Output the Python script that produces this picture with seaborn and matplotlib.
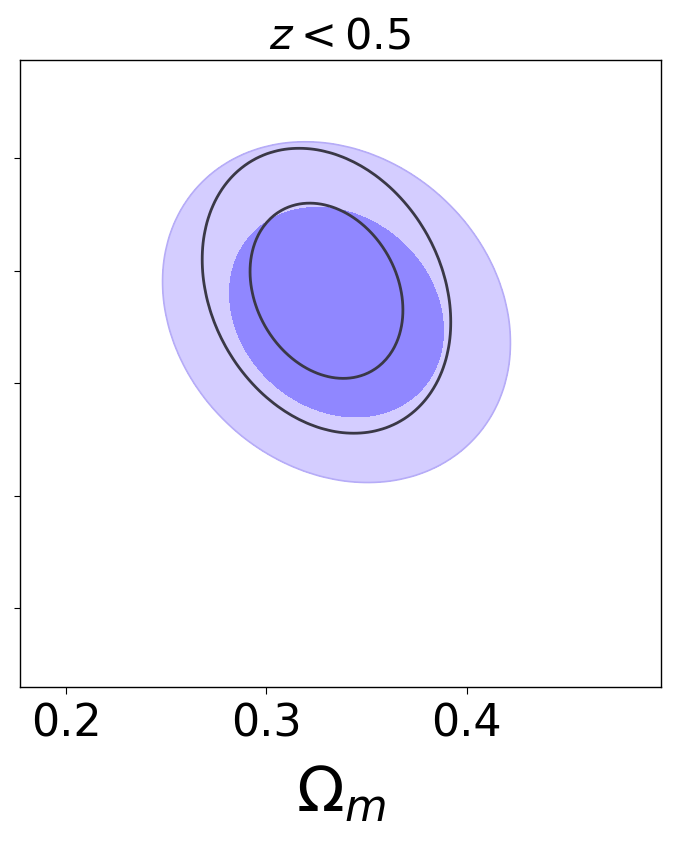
import numpy as np
import pandas as pd
import matplotlib
matplotlib.use("Agg")
import matplotlib.pyplot as plt
import seaborn as sns

# Posterior summaries: mean, 1-sigma width, correlation
params = ["Omega_m", "S"]
filled_mean = [0.335, 0.863]
filled_sigma = [0.0350, 0.061]
filled_rho = -0.18
line_mean = [0.330, 0.882]
line_sigma = [0.025, 0.051]
line_rho = -0.22

xticks = [0.2, 0.3, 0.4]
yticks = [0.6, 0.7, 0.8, 0.9, 1.0]
xlim = (0.177, 0.497)
ylim = (0.530, 1.087)
title = r"$z < 0.5$"
xlabel = r"$\Omega_m$"


def gaussian_grid(mean, sigma, rho, n=90, span=4.5):
    # weighted grid of points standing in for the chain
    gx = np.linspace(mean[0] - span * sigma[0], mean[0] + span * sigma[0], n)
    gy = np.linspace(mean[1] - span * sigma[1], mean[1] + span * sigma[1], n)
    X, Y = np.meshgrid(gx, gy)
    u = (X - mean[0]) / sigma[0]
    v = (Y - mean[1]) / sigma[1]
    q = (u**2 - 2 * rho * u * v + v**2) / (1 - rho**2)
    w = np.exp(-0.5 * q)
    return pd.DataFrame({params[0]: X.ravel(), params[1]: Y.ravel(), "w": w.ravel()})


df_fill = gaussian_grid(filled_mean, filled_sigma, filled_rho)
df_line = gaussian_grid(line_mean, line_sigma, line_rho)

sns.set_style("ticks")
plt.rcParams["font.family"] = ["DejaVu Sans"]
plt.rcParams["mathtext.fontset"] = "dejavusans"
plt.rcParams["text.color"] = "black"
plt.rcParams["axes.labelcolor"] = "black"
plt.rcParams["xtick.color"] = "black"
plt.rcParams["ytick.color"] = "black"

fig = plt.figure(figsize=(6.75, 8.42), dpi=100)
ax = fig.add_axes([20 / 675, 1 - 687 / 842, 641 / 675, 627 / 842])

kde_kws = dict(weights="w", bw_adjust=0.5, gridsize=150, ax=ax)

# filled 68% / 95% regions
sns.kdeplot(data=df_fill, x=params[0], y=params[1], levels=[0.05, 0.32, 1],
            fill=True, color="#9087ff", colors=["#d4cdff", "#9087ff"], **kde_kws)
sns.kdeplot(data=df_fill, x=params[0], y=params[1], levels=[0.05],
            color="#b6acf7", colors=["#b6acf7"], linewidths=1.2, **kde_kws)
# line contours
sns.kdeplot(data=df_line, x=params[0], y=params[1], levels=[0.05, 0.32],
            color="#3a3846", colors=["#3a3846"], linewidths=2.0, **kde_kws)

ax.set_xlim(*xlim)
ax.set_ylim(*ylim)
ax.set_xticks(xticks)
ax.set_xticklabels([f"{t:.1f}" for t in xticks])
ax.set_yticks(yticks)
ax.tick_params(axis="y", labelleft=False, length=4.5, width=0.8)
ax.tick_params(axis="x", labelsize=32, length=5, width=0.8, pad=6)
for s in ax.spines.values():
    s.set_color("black")
    s.set_linewidth(1.0)

ax.set_title(title, fontsize=31, pad=8)
ax.set_xlabel(xlabel, fontsize=45, labelpad=14)
ax.set_ylabel("")

fig.savefig("out.png", dpi=100)
